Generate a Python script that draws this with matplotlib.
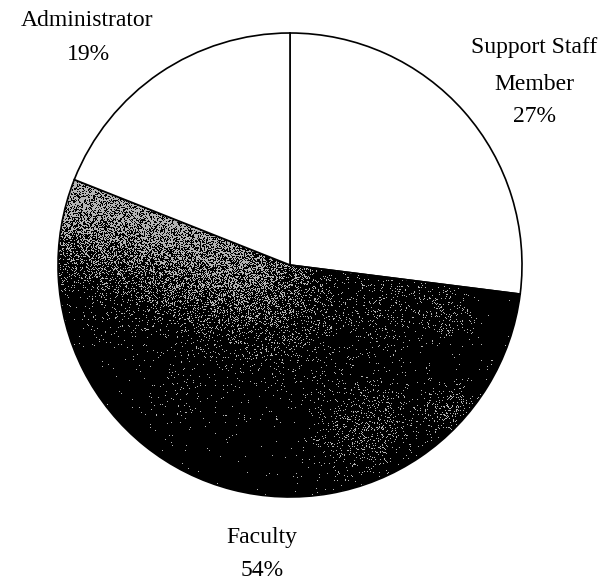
import numpy as np
import matplotlib.pyplot as plt
from matplotlib.colors import ListedColormap

# pie data (clockwise from 12 o'clock)
labels = ['Support Staff\nMember', 'Faculty', 'Administrator']
shares = [27, 54, 19]

W, H = 609, 586
plt.rcParams['font.family'] = ['Liberation Serif', 'DejaVu Serif']

fig = plt.figure(figsize=(W / 100, H / 100), dpi=100)
ax = fig.add_axes([0, 0, 1, 1])

cx, cy, r = 290, H - 265, 232

wedges, _ = ax.pie(shares, startangle=90, counterclock=False,
                   center=(cx, cy), radius=r,
                   colors=['white', 'none', 'white'],
                   wedgeprops=dict(edgecolor='black', linewidth=1.2))

# speckled gray-on-black texture for the Faculty slice (pixel coords, y down)
yy, xx = np.mgrid[0:H, 0:W].astype(float)
h = np.mod(np.sin(xx * 12.9898 + yy * 78.233) * 43758.5453, 1.0)
# distance below the Administrator/Faculty boundary
ang = np.deg2rad(90 + shares[2] * 3.6)
d = np.abs((xx - 290) * np.sin(ang) + (yy - 265) * np.cos(ang))
fade = np.clip((340 - xx) / 90, 0, 1) * np.clip(1 - 0.3 * (xx - 70) / 200, 0.5, 1)
band = 0.72 * np.exp(-(d / 70.0) ** 2) * fade
p = 0.004 + band
for bx, by, bs, bw in [(365, 425, 30, 0.15), (450, 410, 16, 0.16), (445, 315, 16, 0.14),
                       (360, 305, 30, 0.07), (180, 400, 25, 0.03), (400, 300, 20, 0.05)]:
    p = p + bw * np.exp(-((xx - bx) ** 2 + (yy - by) ** 2) / (2 * bs ** 2))
tex = (h < p).astype(float)
im = ax.imshow(tex, cmap=ListedColormap(['black', '#b4b4b4']), vmin=0, vmax=1,
               extent=(0, W, 0, H), origin='upper', interpolation='nearest', zorder=0.5)
im.set_clip_path(wedges[1])
wedges[1].set_zorder(1)

fs = 17
# labels
ax.text(534, H - 48, 'Support Staff', ha='center', va='center', fontsize=fs)
ax.text(534, H - 84, 'Member', ha='center', va='center', fontsize=fs)
ax.text(534, H - 117, f'{shares[0]}%', ha='center', va='center', fontsize=fs)
ax.text(262, H - 537, labels[1], ha='center', va='center', fontsize=fs)
ax.text(262, H - 571, f'{shares[1]}%', ha='center', va='center', fontsize=fs)
ax.text(87, H - 20, labels[2], ha='center', va='center', fontsize=fs)
ax.text(88, H - 55, f'{shares[2]}%', ha='center', va='center', fontsize=fs)

ax.set_xlim(0, W)
ax.set_ylim(0, H)
ax.set_aspect('auto')
ax.axis('off')

fig.savefig('out.png', dpi=100, facecolor='white')
